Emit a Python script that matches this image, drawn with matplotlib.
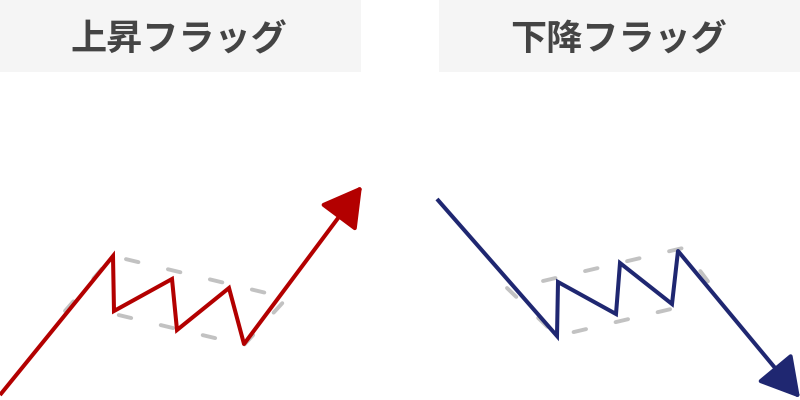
import matplotlib
matplotlib.use("Agg")
import matplotlib.pyplot as plt
from matplotlib.patches import Rectangle

plt.rcParams['font.family'] = ['Noto Sans CJK JP', 'DejaVu Sans']

# ---- data (pixel coords of the sketch, y grows downwards) ----
titles = ["上昇フラッグ", "下降フラッグ"]

bull_x = [0, 113, 114, 172, 177, 229, 244, 362]
bull_y = [395, 256, 311, 279, 330, 288, 344, 186]
bull_box_x = [65, 113, 287, 244, 106]
bull_box_y = [311, 256, 298, 345, 312]

bear_x = [437, 557, 558, 616, 620, 672, 678, 800]
bear_y = [199, 336, 282, 314, 263, 304, 251, 398]
bear_box1_x = [507, 557, 688]
bear_box1_y = [288, 336, 305]
bear_box2_x = [543, 683, 722]
bear_box2_y = [281, 248, 300]

RED = "#b30000"
NAVY = "#1f2771"
GRAY = "#c2c2c2"

fig = plt.figure(figsize=(8, 4), dpi=100)
ax = fig.add_axes([0, 0, 1, 1])
ax.set_xlim(0, 800)
ax.set_ylim(400, 0)
ax.axis("off")

# title boxes
for x0, t in zip([0, 439], titles):
    ax.add_patch(Rectangle((x0, 0), 361, 72, facecolor="#f5f5f5", edgecolor="none"))
    ax.text(x0 + 179, 40, t, ha="center", va="center", fontsize=26,
            fontweight="bold", color="#444444")

dash = dict(color=GRAY, lw=2.8, linestyle=(0, (3.3, 7.8)),
            dash_capstyle="round", zorder=1)
ax.plot(bull_box_x, bull_box_y, **dash)
ax.plot(bear_box1_x, bear_box1_y, **dash)
ax.plot(bear_box2_x, bear_box2_y, **dash)


def trend(xs, ys, color):
    ax.plot(xs[:-1], ys[:-1], color=color, lw=2.9, solid_joinstyle="miter",
            solid_capstyle="butt", zorder=2)
    ax.annotate("", xy=(xs[-1], ys[-1]), xytext=(xs[-2], ys[-2]),
                arrowprops=dict(arrowstyle="-|>,head_length=2.45,head_width=1.4",
                                color=color, lw=2.9, shrinkA=0, shrinkB=0,
                                mutation_scale=10),
                zorder=3)


trend(bull_x, bull_y, RED)
trend(bear_x, bear_y, NAVY)

fig.savefig("out.png", dpi=100)
